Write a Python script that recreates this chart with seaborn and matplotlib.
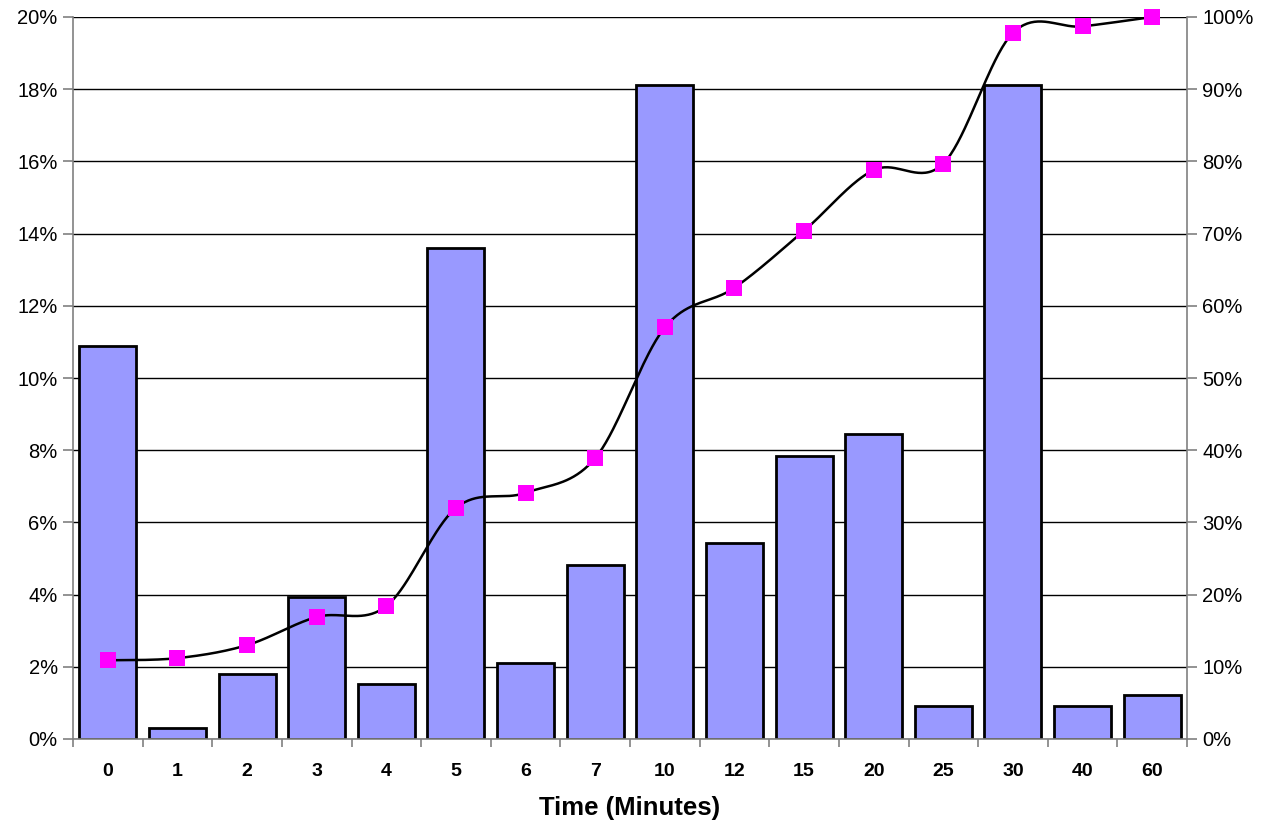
import numpy as np
import pandas as pd
import matplotlib
matplotlib.use("Agg")
import matplotlib.pyplot as plt
import seaborn as sns
from matplotlib.ticker import FixedLocator, FuncFormatter

# Response-time distribution: share of cases per time bucket and running total
minutes = ["0", "1", "2", "3", "4", "5", "6", "7", "10", "12", "15", "20", "25", "30", "40", "60"]
share_pct = [10.88, 0.30, 1.81, 3.93, 1.51, 13.60, 2.11, 4.83, 18.13, 5.44, 7.85, 8.46, 0.91, 18.13, 0.91, 1.21]
cumulative_pct = [10.9, 11.2, 13.0, 16.9, 18.4, 32.0, 34.1, 38.9, 57.0, 62.5, 70.4, 78.8, 79.7, 97.8, 98.7, 100.0]
left_ticks = [0, 2, 4, 6, 8, 10, 12, 14, 16, 18, 20]
right_ticks = [0, 10, 20, 30, 40, 50, 60, 70, 80, 90, 100]

sns.set_theme(style="white")
plt.rcParams["font.family"] = ["Liberation Sans", "DejaVu Sans"]
plt.rcParams["text.color"] = "black"
plt.rcParams["axes.labelcolor"] = "black"
plt.rcParams["xtick.color"] = "black"
plt.rcParams["ytick.color"] = "black"

df = pd.DataFrame({"minutes": minutes, "share": share_pct, "cum": cumulative_pct})

fig = plt.figure(figsize=(12.79, 8.24), dpi=100)
ax = fig.add_axes([73 / 1279, 85 / 824, (1187 - 73) / 1279, (739 - 17) / 824])

sns.barplot(data=df, x="minutes", y="share", order=minutes, color="#9999FF",
            saturation=1, width=0.82, edgecolor="black", linewidth=2.0, ax=ax, zorder=2)

ax.set_xlim(-0.5, len(minutes) - 0.5)
ax.set_ylim(0, 20)
ax.yaxis.set_major_locator(FixedLocator(left_ticks))
ax.yaxis.set_major_formatter(FuncFormatter(lambda v, p: f"{v:.0f}%"))
ax.set_axisbelow(True)
ax.grid(axis="y", color="black", linewidth=1.0)
ax.grid(axis="x", visible=False)

gray = "#808080"
for side in ["left", "bottom"]:
    ax.spines[side].set_color(gray)
    ax.spines[side].set_linewidth(1.2)
ax.spines["top"].set_visible(False)
ax.spines["right"].set_visible(False)

ax.tick_params(axis="y", which="major", left=True, length=7, width=1.2, color=gray,
               labelsize=14.5, pad=4, labelcolor="black")
# category labels centred, tick marks on category boundaries
ax.set_xticks(range(len(minutes)))
ax.set_xticklabels(minutes, fontweight="bold", fontsize=14, color="black")
ax.tick_params(axis="x", which="major", bottom=False, length=0, pad=17)
ax.set_xticks(np.arange(-0.5, len(minutes)), minor=True)
ax.tick_params(axis="x", which="minor", bottom=True, length=6, width=1.2, color=gray)
ax.set_xlabel("Time (Minutes)", fontsize=18.5, fontweight="bold", labelpad=12, color="black")
ax.set_ylabel("")

# Cumulative share on the secondary axis
ax2 = ax.twinx()
ax2.set_ylim(0, 100)
ax2.yaxis.set_major_locator(FixedLocator(right_ticks))
ax2.yaxis.set_major_formatter(FuncFormatter(lambda v, p: f"{v:.0f}%"))
ax2.tick_params(axis="y", right=True, length=7, width=1.2, color=gray, labelsize=14.5,
                pad=4, labelcolor="black")
for side in ["left", "top", "bottom"]:
    ax2.spines[side].set_visible(False)
ax2.spines["right"].set_color(gray)
ax2.spines["right"].set_linewidth(1.2)
ax2.grid(False)

# Smoothed connecting curve (Catmull-Rom Bezier segments through the points)
xs = np.arange(len(minutes), dtype=float)
ys = np.asarray(cumulative_pct, dtype=float)
px = np.concatenate([[xs[0]], xs, [xs[-1]]])
py = np.concatenate([[ys[0]], ys, [ys[-1]]])
t = np.linspace(0, 1, 40)
curve_x, curve_y = [], []
for i in range(len(xs) - 1):
    p0 = np.array([xs[i], ys[i]])
    p3 = np.array([xs[i + 1], ys[i + 1]])
    c1 = p0 + (np.array([px[i + 2], py[i + 2]]) - np.array([px[i], py[i]])) / 6
    c2 = p3 - (np.array([px[i + 3], py[i + 3]]) - np.array([px[i + 1], py[i + 1]])) / 6
    b = ((1 - t) ** 3)[:, None] * p0 + (3 * (1 - t) ** 2 * t)[:, None] * c1 \
        + (3 * (1 - t) * t ** 2)[:, None] * c2 + (t ** 3)[:, None] * p3
    curve_x.extend(b[:, 0])
    curve_y.extend(b[:, 1])
ax2.plot(curve_x, curve_y, color="black", linewidth=1.8, zorder=3, clip_on=False)

sns.scatterplot(x=xs, y=ys, marker="s", s=120, color="#FF00FF", edgecolor="#FF00FF",
                linewidth=0, ax=ax2, zorder=4, clip_on=False)
ax2.set_xlim(-0.5, len(minutes) - 0.5)

fig.savefig("out.png", dpi=100)
